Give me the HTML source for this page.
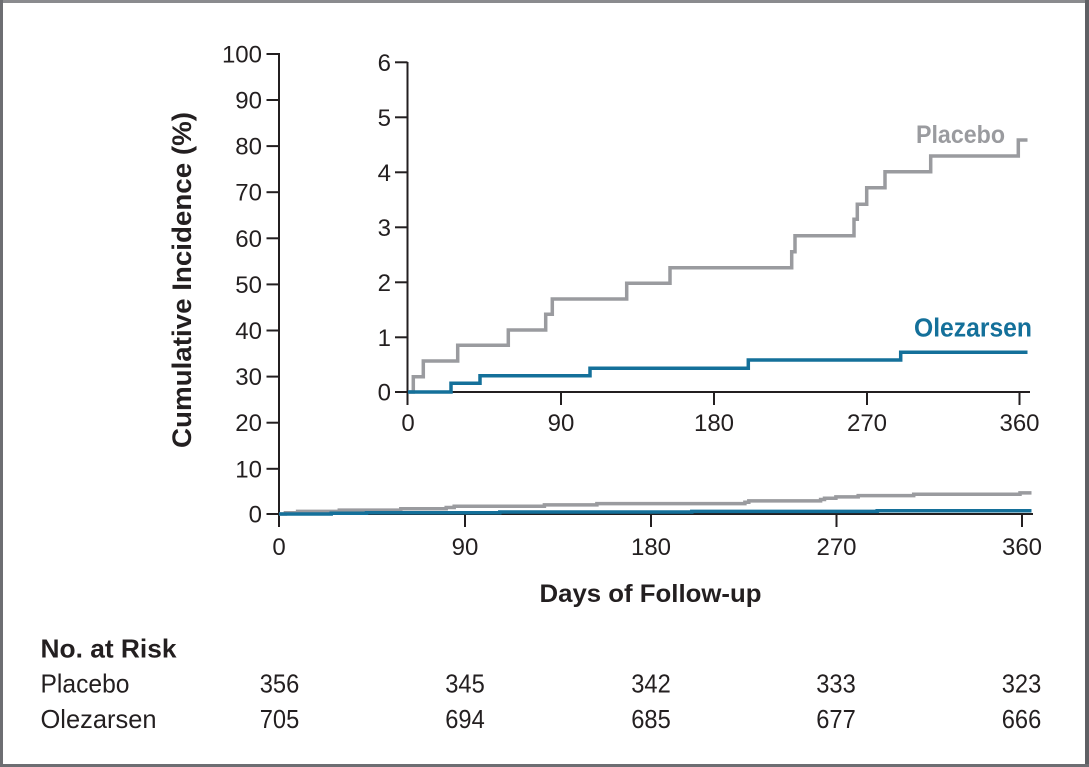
<!DOCTYPE html>
<html>
<head>
<meta charset="utf-8">
<style>
  html, body { margin: 0; padding: 0; background: #ffffff; }
  svg { display: block; }
  text { font-family: "Liberation Sans", "DejaVu Sans", sans-serif; fill: #231f20; }
</style>
</head>
<body>
<svg width="1089" height="767" viewBox="0 0 1089 767" xmlns="http://www.w3.org/2000/svg">
  <rect x="0" y="0" width="1089" height="767" fill="#ffffff"/>
  <!-- frame -->
  <rect x="0" y="0" width="1089" height="3" fill="#8a8b8e"/>
  <rect x="0" y="0" width="3" height="767" fill="#6d6e72"/>
  <rect x="1085" y="0" width="4" height="767" fill="#5f6064"/>
  <rect x="0" y="764" width="1089" height="3" fill="#6d6e72"/>

  <!-- Y axis title -->
  <text transform="translate(191,280) rotate(-90)" text-anchor="middle" font-size="27" font-weight="bold" textLength="336" lengthAdjust="spacingAndGlyphs">Cumulative Incidence (%)</text>

  <!-- MAIN AXES -->
  <g stroke="#231f20" stroke-width="2" fill="none">
    <line x1="279" y1="53" x2="279" y2="527"/>
    <line x1="278" y1="514" x2="1033" y2="514"/>
    <line x1="266.5" y1="54" x2="279" y2="54"/>
    <line x1="266.5" y1="100" x2="279" y2="100"/>
    <line x1="266.5" y1="146.1" x2="279" y2="146.1"/>
    <line x1="266.5" y1="192.2" x2="279" y2="192.2"/>
    <line x1="266.5" y1="238.3" x2="279" y2="238.3"/>
    <line x1="266.5" y1="284.4" x2="279" y2="284.4"/>
    <line x1="266.5" y1="330.5" x2="279" y2="330.5"/>
    <line x1="266.5" y1="376.6" x2="279" y2="376.6"/>
    <line x1="266.5" y1="422.7" x2="279" y2="422.7"/>
    <line x1="266.5" y1="468.8" x2="279" y2="468.8"/>
    <line x1="266.5" y1="514" x2="279" y2="514"/>
    <line x1="465" y1="514" x2="465" y2="527"/>
    <line x1="651" y1="514" x2="651" y2="527"/>
    <line x1="836.5" y1="514" x2="836.5" y2="527"/>
    <line x1="1022" y1="514" x2="1022" y2="527"/>
  </g>
  <g font-size="24" text-anchor="end">
    <text x="262" y="62.5">100</text>
    <text x="262" y="108.5">90</text>
    <text x="262" y="154.6">80</text>
    <text x="262" y="200.7">70</text>
    <text x="262" y="246.8">60</text>
    <text x="262" y="292.9">50</text>
    <text x="262" y="339">40</text>
    <text x="262" y="385.1">30</text>
    <text x="262" y="431.2">20</text>
    <text x="262" y="477.3">10</text>
    <text x="262" y="522.5">0</text>
  </g>
  <g font-size="24" text-anchor="middle">
    <text x="279" y="555">0</text>
    <text x="465" y="555">90</text>
    <text x="651" y="555">180</text>
    <text x="836.5" y="555">270</text>
    <text x="1022" y="555">360</text>
  </g>

  <!-- main curves -->
  <path d="M279,514 H285.4 V512.7 H297.6 V511.4 H339.3 V510.1 H400.8 V508.8 H446.2 V507.5 H454.2 V506.2 H544.4 V504.9 H596.9 V503.6 H744.9 V502.2 H748.8 V500.9 H820.6 V499.5 H824.5 V498.3 H835.9 V496.9 H858.2 V495.6 H913.7 V494.2 H1020 V492.9 H1031.5" fill="none" stroke="#9a9b9f" stroke-width="3.5"/>
  <path d="M279,514 H331.2 V513.3 H366.5 V512.7 H499.8 V512 H691.8 V511.4 H877.2 V510.7 H1031.5" fill="none" stroke="#14709a" stroke-width="3.5"/>

  <!-- X axis title -->
  <text x="650.5" y="602" font-size="25" font-weight="bold" text-anchor="middle" textLength="222" lengthAdjust="spacingAndGlyphs">Days of Follow-up</text>

  <!-- INSET AXES -->
  <g stroke="#231f20" stroke-width="2" fill="none">
    <line x1="407.5" y1="62" x2="407.5" y2="405"/>
    <line x1="406.5" y1="392" x2="1030" y2="392"/>
    <line x1="395" y1="62.3" x2="407.5" y2="62.3"/>
    <line x1="395" y1="117.3" x2="407.5" y2="117.3"/>
    <line x1="395" y1="172.3" x2="407.5" y2="172.3"/>
    <line x1="395" y1="227.3" x2="407.5" y2="227.3"/>
    <line x1="395" y1="282.3" x2="407.5" y2="282.3"/>
    <line x1="395" y1="337.3" x2="407.5" y2="337.3"/>
    <line x1="395" y1="392" x2="407.5" y2="392"/>
    <line x1="561" y1="392" x2="561" y2="405"/>
    <line x1="714" y1="392" x2="714" y2="405"/>
    <line x1="867" y1="392" x2="867" y2="405"/>
    <line x1="1019.5" y1="392" x2="1019.5" y2="405"/>
  </g>
  <g font-size="24" text-anchor="end">
    <text x="391" y="71">6</text>
    <text x="391" y="126">5</text>
    <text x="391" y="181">4</text>
    <text x="391" y="236">3</text>
    <text x="391" y="291">2</text>
    <text x="391" y="346">1</text>
    <text x="391" y="400.5">0</text>
  </g>
  <g font-size="24" text-anchor="middle">
    <text x="408" y="431">0</text>
    <text x="561" y="431">90</text>
    <text x="714" y="431">180</text>
    <text x="867" y="431">270</text>
    <text x="1019.5" y="431">360</text>
  </g>

  <!-- inset curves -->
  <path d="M408,392 H413.3 V376.7 H423.3 V361 H457.7 V345.3 H508.3 V330 H545.7 V314.3 H552.3 V299 H626.7 V283.3 H670 V267.7 H791.7 V251.7 H795 V235.7 H854 V219.3 H857.3 V204.3 H866.7 V187.7 H885 V171.7 H930.7 V156 H1018.3 V140 H1027.5" fill="none" stroke="#9a9b9f" stroke-width="3.5"/>
  <path d="M408,392 H451 V383.3 H480 V375.7 H590 V368.3 H748.3 V360 H900.7 V352.3 H1027.5" fill="none" stroke="#14709a" stroke-width="3.5"/>

  <!-- series labels -->
  <text x="916" y="143" font-size="25" font-weight="bold" style="fill:#9a9b9f" textLength="89" lengthAdjust="spacingAndGlyphs">Placebo</text>
  <text x="914" y="336.5" font-size="25.5" font-weight="bold" style="fill:#14709a" textLength="118" lengthAdjust="spacingAndGlyphs">Olezarsen</text>

  <!-- Risk table -->
  <text x="40.5" y="657.5" font-size="26" font-weight="bold" textLength="136" lengthAdjust="spacingAndGlyphs">No. at Risk</text>
  <text x="40.5" y="692.5" font-size="26" textLength="89" lengthAdjust="spacingAndGlyphs">Placebo</text>
  <text x="40.5" y="728" font-size="26" textLength="116" lengthAdjust="spacingAndGlyphs">Olezarsen</text>
  <g font-size="26" text-anchor="middle">
    <text x="279.5" y="692.5" textLength="39.5" lengthAdjust="spacingAndGlyphs">356</text>
    <text x="465" y="692.5" textLength="39.5" lengthAdjust="spacingAndGlyphs">345</text>
    <text x="651" y="692.5" textLength="39.5" lengthAdjust="spacingAndGlyphs">342</text>
    <text x="836" y="692.5" textLength="39.5" lengthAdjust="spacingAndGlyphs">333</text>
    <text x="1021.5" y="692.5" textLength="39.5" lengthAdjust="spacingAndGlyphs">323</text>
    <text x="279.5" y="728" textLength="39.5" lengthAdjust="spacingAndGlyphs">705</text>
    <text x="465" y="728" textLength="39.5" lengthAdjust="spacingAndGlyphs">694</text>
    <text x="651" y="728" textLength="39.5" lengthAdjust="spacingAndGlyphs">685</text>
    <text x="836" y="728" textLength="39.5" lengthAdjust="spacingAndGlyphs">677</text>
    <text x="1021.5" y="728" textLength="39.5" lengthAdjust="spacingAndGlyphs">666</text>
  </g>
</svg>
</body>
</html>
